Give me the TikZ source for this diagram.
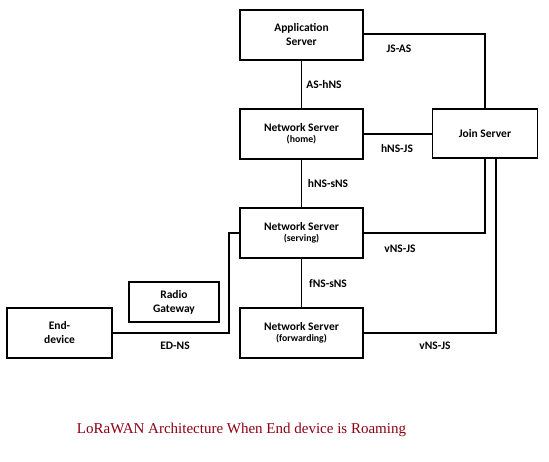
\documentclass[tikz,border=0pt]{standalone}
\usepackage{fontspec}
\setmainfont{Carlito}
\newfontfamily\capfont{Liberation Serif}
\definecolor{capred}{RGB}{140,0,20}
\begin{document}
\begin{tikzpicture}[x=1pt,y=-1pt,
  box/.style={draw,line width=1.4pt,inner sep=0pt,align=center,font=\bfseries\fontsize{11.5}{14}\selectfont},
  lbl/.style={font=\bfseries\fontsize{11.5}{14}\selectfont},
  link/.style={line width=1.3pt}]
\newcommand{\subl}[1]{{\fontsize{9.8}{10}\selectfont #1}}
\useasboundingbox (0,0) rectangle (549,462);
\node[box,minimum width=123pt,minimum height=50pt] (as) at (301.5,35) {Application\\Server};
\node[box,minimum width=123pt,minimum height=50pt] (home) at (301.5,134) {Network Server\\[-3pt]\subl{(home)}};
\node[box,minimum width=105pt,minimum height=49pt] (js) at (485,133.5) {Join Server};
\node[box,minimum width=123pt,minimum height=50pt] (serv) at (301.5,233) {Network Server\\[-3pt]\subl{(serving)}};
\node[box,minimum width=123pt,minimum height=50pt] (fwd) at (301.5,333) {Network Server\\[-3pt]\subl{(forwarding)}};
\node[box,minimum width=105pt,minimum height=50pt] (ed) at (59.5,333) {End-\\device};
\node[box,minimum width=90pt,minimum height=40pt] (gw) at (174,302) {Radio\\Gateway};
\coordinate (jsa) at (485,157.5);
\coordinate (jsb) at (496,157.5);
\coordinate (edk) at (229,333);
\coordinate (edk2) at (229,233);
\draw[link] (as.south) -- (home.north);
\draw[link] (home.south) -- (serv.north);
\draw[link] (serv.south) -- (fwd.north);
\draw[link] (as.east |- 0,34) -| (js.north);
\draw[link] (home.east |- 0,134) -- (js.west |- 0,134);
\draw[link] (serv.east) -| (jsa);
\draw[link] (fwd.east) -| (jsb);
\draw[link] (ed.east) -- (edk) -- (edk2) -- (serv.west);
\node[lbl] (l1) at (399,49) {JS-AS};
\node[lbl] (l2) at (324,85) {AS-hNS};
\node[lbl] (l3) at (397,149) {hNS-JS};
\node[lbl] (l4) at (328,184) {hNS-sNS};
\node[lbl] (l5) at (400,249) {vNS-JS};
\node[lbl] (l6) at (328,284) {fNS-sNS};
\node[lbl] (l7) at (435,346) {vNS-JS};
\node[lbl] (l8) at (175,346) {ED-NS};
\node[font=\capfont\fontsize{15}{17}\selectfont,text=capred] (cap) at (241.5,430) {LoRaWAN Architecture When End device is Roaming};
\end{tikzpicture}
\end{document}
